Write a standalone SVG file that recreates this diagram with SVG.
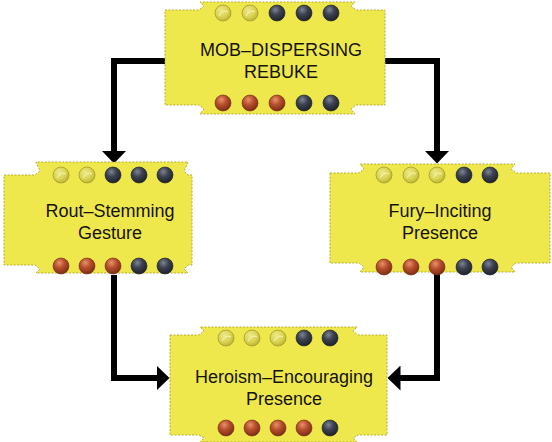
<svg xmlns="http://www.w3.org/2000/svg" width="552" height="442" viewBox="0 0 552 442">
<defs>
<radialGradient id="gy" cx="0.4" cy="0.35" r="0.7">
<stop offset="0" stop-color="#eeea8a"/><stop offset="0.6" stop-color="#d9d250"/><stop offset="1" stop-color="#b8b030"/>
</radialGradient>
<radialGradient id="gd" cx="0.4" cy="0.3" r="0.7">
<stop offset="0" stop-color="#7c8494"/><stop offset="0.45" stop-color="#3c4250"/><stop offset="1" stop-color="#1e222c"/>
</radialGradient>
<radialGradient id="gr" cx="0.4" cy="0.3" r="0.7">
<stop offset="0" stop-color="#e8926a"/><stop offset="0.45" stop-color="#b8502e"/><stop offset="1" stop-color="#7e2c14"/>
</radialGradient>
<marker id="ah" viewBox="0 0 13 25" markerWidth="13" markerHeight="25" refX="0.5" refY="12.5" orient="auto" markerUnits="userSpaceOnUse">
<path d="M0,0 L13,12.5 L0,25 Z" fill="#000"/>
</marker>
</defs>
<style>
.card{fill:#efe84c;stroke:#b3ab3a;stroke-width:1;stroke-dasharray:2 1.5}
.y{fill:url(#gy);stroke:#a39c2c;stroke-width:0.8}
.d{fill:url(#gd);stroke:#1a1d24;stroke-width:0.6}
.r{fill:url(#gr);stroke:#6e2812;stroke-width:0.6}
.sw{fill:none;stroke:#f4f1b0;stroke-width:1.2;opacity:0.9}
.t{font-family:"Liberation Sans",Arial,sans-serif;font-size:18px;fill:#15130a;text-anchor:middle}
.c{fill:none;stroke:#000;stroke-width:6;stroke-linejoin:miter;marker-end:url(#ah)}
</style>
<rect width="552" height="442" fill="#fff"/>

<g id="connectors">
<polyline class="c" points="166,61 114,61 114,151"/>
<polyline class="c" points="384,61 437,61 437,151"/>
<polyline class="c" points="114,275 114,378 157,378"/>
<polyline class="c" points="437,274 437,378 400,378"/>
</g>

<g id="node-mob">
<path class="card" d="M165,10 L199,10 L204,6 L200,2 L355,2 L351,6 L356,10 L385,10 L385,105 L356,105 L351,109 L355,114 L200,114 L204,109 L199,105 L165,105 Z"/>
<circle class="y" cx="223" cy="13" r="8"/><path class="sw" d="M219,16 Q223,9 228,12"/>
<circle class="y" cx="250" cy="13" r="8"/><path class="sw" d="M246,16 Q250,9 255,12"/>
<circle class="d" cx="277" cy="13" r="8"/>
<circle class="d" cx="304" cy="13" r="8"/>
<circle class="d" cx="331" cy="13" r="8"/>
<circle class="r" cx="223" cy="103" r="8"/>
<circle class="r" cx="250" cy="103" r="8"/>
<circle class="r" cx="277" cy="103" r="8"/>
<circle class="d" cx="304" cy="103" r="8"/>
<circle class="d" cx="331" cy="103" r="8"/>
<text class="t" x="281" y="56">MOB–DISPERSING</text>
<text class="t" x="281" y="78">REBUKE</text>
</g>

<g id="node-rout">
<path class="card" d="M4,175 L35,175 L40,171 L36,162 L188,162 L184,171 L188,175 L192,175 L192,265 L188,265 L184,269 L188,273 L36,273 L40,269 L35,265 L4,265 Z"/>
<circle class="y" cx="61" cy="175" r="8"/><path class="sw" d="M57,178 Q61,171 66,174"/>
<circle class="y" cx="87" cy="175" r="8"/><path class="sw" d="M83,178 Q87,171 92,174"/>
<circle class="d" cx="113" cy="175" r="8"/>
<circle class="d" cx="139" cy="175" r="8"/>
<circle class="d" cx="165" cy="175" r="8"/>
<circle class="r" cx="61" cy="266" r="8"/>
<circle class="r" cx="87" cy="266" r="8"/>
<circle class="r" cx="113" cy="266" r="8"/>
<circle class="d" cx="139" cy="266" r="8"/>
<circle class="d" cx="165" cy="266" r="8"/>
<text class="t" x="110" y="217">Rout–Stemming</text>
<text class="t" x="110" y="239">Gesture</text>
</g>

<g id="node-fury">
<path class="card" d="M330,173 L359,173 L364,169 L360,164 L515,164 L511,169 L516,173 L550,173 L550,263 L516,263 L511,267 L515,272 L360,272 L364,267 L359,263 L330,263 Z"/>
<circle class="y" cx="384" cy="175" r="8"/><path class="sw" d="M380,178 Q384,171 389,174"/>
<circle class="y" cx="411" cy="175" r="8"/><path class="sw" d="M407,178 Q411,171 416,174"/>
<circle class="y" cx="437" cy="175" r="8"/><path class="sw" d="M433,178 Q437,171 442,174"/>
<circle class="d" cx="464" cy="175" r="8"/>
<circle class="d" cx="490" cy="175" r="8"/>
<circle class="r" cx="384" cy="267" r="8"/>
<circle class="r" cx="411" cy="267" r="8"/>
<circle class="r" cx="437" cy="267" r="8"/>
<circle class="d" cx="464" cy="267" r="8"/>
<circle class="d" cx="490" cy="267" r="8"/>
<text class="t" x="440" y="217">Fury–Inciting</text>
<text class="t" x="440" y="239">Presence</text>
</g>

<g id="node-heroism">
<path class="card" d="M170,335 L199,335 L204,331 L200,327 L357,327 L353,331 L358,335 L387,335 L387,435 L358,435 L353,438 L357,442 L200,442 L204,438 L199,435 L170,435 Z"/>
<circle class="y" cx="226" cy="338" r="8"/><path class="sw" d="M222,341 Q226,334 231,337"/>
<circle class="y" cx="252" cy="338" r="8"/><path class="sw" d="M248,341 Q252,334 257,337"/>
<circle class="y" cx="278" cy="338" r="8"/><path class="sw" d="M274,341 Q278,334 283,337"/>
<circle class="d" cx="304" cy="338" r="8"/>
<circle class="d" cx="330" cy="338" r="8"/>
<circle class="r" cx="226" cy="428" r="8"/>
<circle class="r" cx="252" cy="428" r="8"/>
<circle class="r" cx="278" cy="428" r="8"/>
<circle class="r" cx="304" cy="428" r="8"/>
<circle class="d" cx="330" cy="428" r="8"/>
<text class="t" x="284" y="383">Heroism–Encouraging</text>
<text class="t" x="284" y="405">Presence</text>
</g>
</svg>
